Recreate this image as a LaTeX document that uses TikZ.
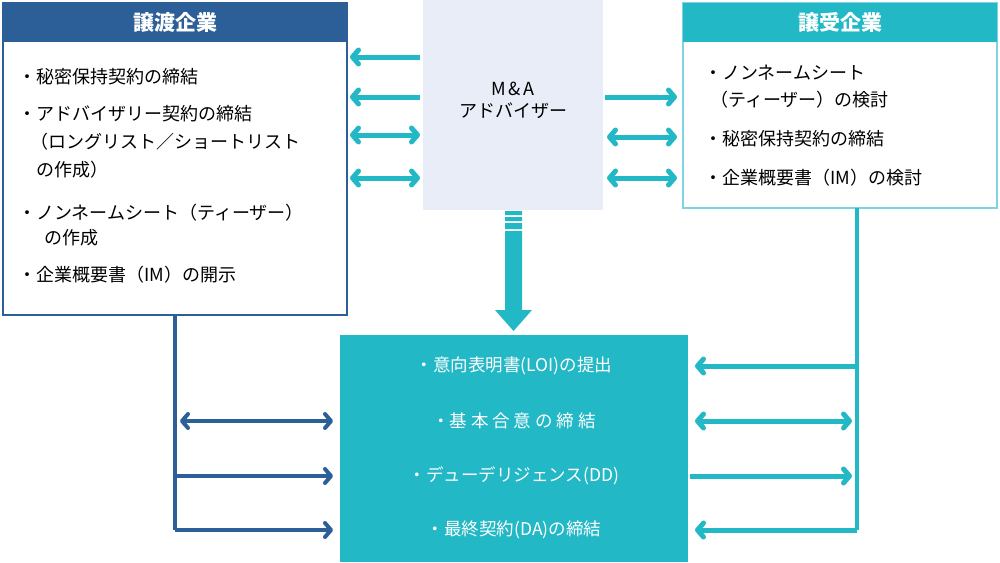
\documentclass[tikz,border=0pt]{standalone}
\usepackage{fontspec}
\setmainfont{Noto Sans CJK JP}
\usetikzlibrary{arrows.meta}
\definecolor{dblue}{HTML}{2C5F97}
\definecolor{teal}{HTML}{22B8C6}
\definecolor{lteal}{HTML}{7FD3DE}
\definecolor{adv}{HTML}{E8EDF8}
\begin{document}
\begin{tikzpicture}[x=1pt,y=-1pt,
  ta/.style={line width=5pt,teal,arrows={-Straight Barb[round,length=6pt,width=14pt]}},
  tb/.style={ta,arrows={Straight Barb[round,length=6pt,width=14pt]-Straight Barb[round,length=6pt,width=14pt]}},
  ba/.style={line width=4pt,dblue,arrows={-Straight Barb[round,length=6pt,width=14pt]}},
  bb/.style={ba,arrows={Straight Barb[round,length=6pt,width=14pt]-Straight Barb[round,length=6pt,width=14pt]}},
  lt/.style={anchor=west,font=\fontsize{18}{20}\selectfont,inner sep=0},
  bt/.style={white,font=\fontsize{17.5}{20}\selectfont,inner sep=0}]
\useasboundingbox (0,0) rectangle (1000,562);
% left box
\draw[dblue,line width=1.2pt,fill=white] (3,3) rectangle (347,315);
\fill[dblue] (3,3) rectangle (347,42);
\node[white,font=\bfseries\fontsize{21}{24}\selectfont] (lh) at (175,22) {譲渡企業};
\node[lt] (l1) at (18,77) {・秘密保持契約の締結};
\node[lt] (l2) at (18,114) {・アドバイザリー契約の締結};
\node[lt] (l3) at (30,142) {（ロングリスト／ショートリスト};
\node[lt] (l4) at (36,170) {の作成）};
\node[lt] (l5) at (18,213) {・ノンネームシート（ティーザー）};
\node[lt] (l6) at (44,238) {の作成};
\node[lt] (l7) at (18,275) {・企業概要書（IM）の開示};
% right box
\draw[lteal,line width=1.2pt,fill=white] (683,3) rectangle (997,208);
\fill[teal] (683,3) rectangle (997,42);
\node[white,font=\bfseries\fontsize{21}{24}\selectfont] (rh) at (840,22) {譲受企業};
\node[lt] (r1) at (704,73) {・ノンネームシート};
\node[lt] (r2) at (710,100) {（ティーザー）の検討};
\node[lt] (r3) at (704,139) {・秘密保持契約の締結};
\node[lt] (r4) at (704,178) {・企業概要書（IM）の検討};
% advisor
\fill[adv] (423,0) rectangle (603,210);
\node[font=\fontsize{18}{22}\selectfont,align=center] (adv) at (513,100) {M\,\&\,A\\アドバイザー};
\foreach \y/\s in {57/ta,97/ta,135/tb,178/tb}
  \draw[\s] (420,\y) coordinate (a\y) -- (350,\y) coordinate (b\y);
\draw[ta] (605,97) coordinate (c1) -- (677,97) coordinate (d1);
\foreach \y in {137,178}
  \draw[tb] (607,\y) coordinate (c\y) -- (677,\y) coordinate (d\y);
% down arrow
\fill[teal] (505,211) rectangle (522,215) (505,217) rectangle (522,221) (505,223) rectangle (522,229)
  (505,231) -- (522,231) -- (522,310) -- (532,310) -- (513.5,331) -- (495,310) -- (505,310) -- cycle;
% bottom box
\fill[teal] (340,335) rectangle (688,562);
\node[bt] (m1) at (514,366) {・意向表明書(LOI)の提出};
\node[bt] (m2) at (514,421) {・基 本 合 意 の 締 結};
\node[bt] (m3) at (514,476) {・デューデリジェンス(DD)};
\node[bt] (m4) at (514,530) {・最終契約(DA)の締結};
% left connectors
\draw[dblue,line width=4pt] (175,315) -- (175,530);
\draw[bb] (180,421) -- (333,421);
\draw[ba] (175,476) -- (333,476);
\draw[ba] (175,530) -- (333,530);
% right connectors
\draw[teal,line width=4pt] (857,208) -- (857,530);
\draw[ta] (857,366) -- (695,366);
\draw[tb] (695,421) -- (852,421);
\draw[ta] (690,476) -- (852,476);
\draw[ta] (857,530) -- (695,530);
\end{tikzpicture}
\end{document}
